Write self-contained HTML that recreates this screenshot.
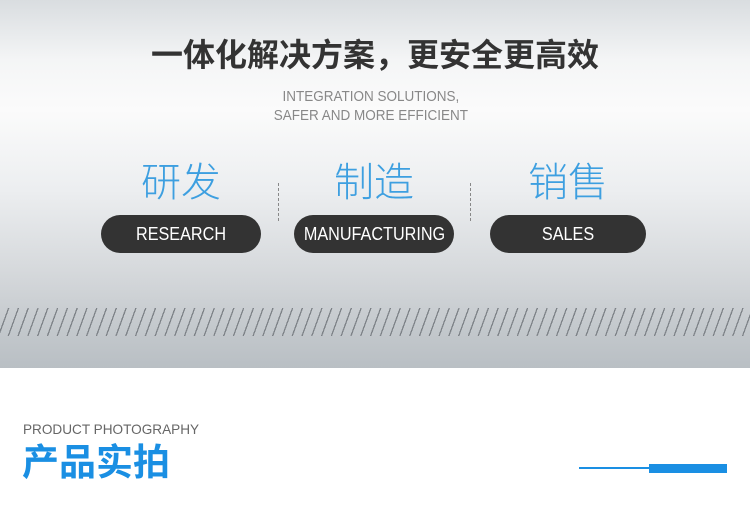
<!DOCTYPE html>
<html><head><meta charset="utf-8"><style>
*{margin:0;padding:0;box-sizing:border-box}
body{width:750px;height:514px;position:relative;overflow:hidden;background:#fff;font-family:"Liberation Sans","Noto Sans CJK SC",sans-serif}
.top{position:absolute;left:0;top:0;width:750px;height:368px;background:linear-gradient(#d9dde0 0px,#f4f5f6 60px,#fbfbfb 110px,#eceef0 190px,#d6d9dc 270px,#c3c8cc 330px,#b9bfc4 368px)}
.stripes{position:absolute;left:0;top:308px;width:750px;height:28px;background:repeating-linear-gradient(110deg,transparent 0,transparent 7.5px,#7e8388 7.5px,#7e8388 8.8px,transparent 8.8px,transparent 9.2px)}
.t{position:absolute;white-space:nowrap}
.pill{position:absolute;top:215px;height:38px;border-radius:19px;background:#333;color:#fff;font-size:18px;line-height:38px;text-align:center}
.pill span{display:inline-block;transform:scaleX(0.9)}
.cn{position:absolute;top:158px;font-size:40px;color:#3d9fe0;font-weight:300;text-align:center;line-height:50px}
.dash{position:absolute;top:183px;height:38px;border-left:1px dashed #888}
</style></head><body>
<div class="top"></div>
<div class="stripes"></div>
<div class="t" style="left:0;width:750px;text-align:center;top:35px;font-size:32px;font-weight:bold;color:#333;line-height:40px">一体化解决方案，更安全更高效</div>
<div class="t" style="left:0;width:742px;text-align:center;top:87px;font-size:15px;color:#888;line-height:19px;transform:scaleX(0.9);transform-origin:370px 0">INTEGRATION SOLUTIONS,<br>SAFER AND MORE EFFICIENT</div>
<div class="cn" style="left:101px;width:160px">研发</div>
<div class="cn" style="left:294px;width:160px">制造</div>
<div class="cn" style="left:490px;width:156px">销售</div>
<div class="dash" style="left:278px"></div>
<div class="dash" style="left:470px"></div>
<div class="pill" style="left:101px;width:160px"><span>RESEARCH</span></div>
<div class="pill" style="left:294px;width:160px"><span>MANUFACTURING</span></div>
<div class="pill" style="left:490px;width:156px"><span>SALES</span></div>
<div class="t" style="left:23px;top:421px;font-size:14px;color:#666;transform:scaleX(0.97);transform-origin:0 0">PRODUCT PHOTOGRAPHY</div>
<div class="t" style="left:22px;top:440px;font-size:37px;font-weight:bold;color:#1a8fe3;line-height:46px">产品实拍</div>
<div style="position:absolute;left:579px;top:467px;width:72px;height:2px;background:#1a8fe3"></div>
<div style="position:absolute;left:649px;top:464px;width:78px;height:9px;background:#1a8fe3"></div>
</body></html>
